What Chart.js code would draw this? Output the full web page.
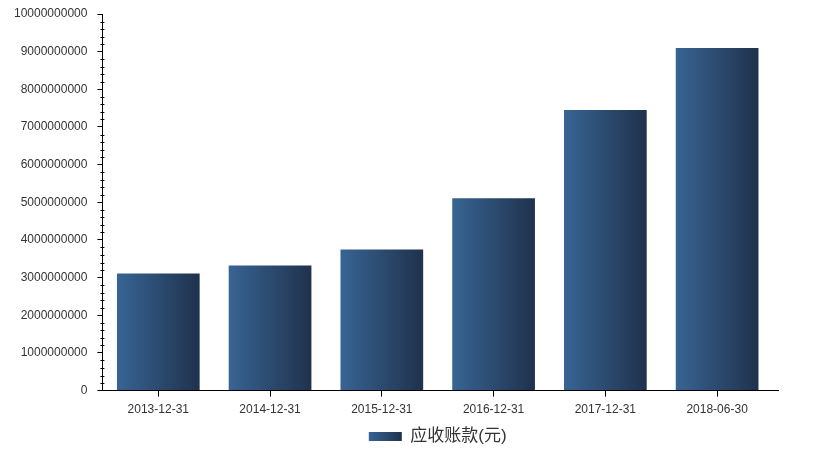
<!DOCTYPE html>
<html>
<head>
<meta charset="utf-8">
<script src="https://cdn.jsdelivr.net/npm/chart.js@4"></script>
<style>
    html, body { margin: 0; padding: 0; background: #fff; }
    #wrap { width: 814px; height: 450px; }
</style>
</head>
<body>
<div id="wrap"><canvas id="arChart"></canvas></div>
<script>
// Data
const dates = ['2013-12-31', '2014-12-31', '2015-12-31', '2016-12-31', '2017-12-31', '2018-06-30'];
const receivables = [3110000000, 3320000000, 3750000000, 5110000000, 7450000000, 9100000000];
const seriesName = '应收账款(元)';

const barPct = 0.74;
const leftColor = '#386493';
const rightColor = '#1f324d';

function barGradient(ctx, x0, x1) {
    const g = ctx.createLinearGradient(x0, 0, x1, 0);
    g.addColorStop(0, leftColor);
    g.addColorStop(1, rightColor);
    return g;
}

// Minor ticks on the y axis, legend centred under the plot, gradient legend box
const extras = {
    id: 'extras',
    afterLayout(chart) {
        const lg = chart.legend;
        lg.left = chart.chartArea.left;
        lg.right = chart.chartArea.right;
        lg.adjustHitBoxes();
    },
    beforeDraw(chart) {
        const lg = chart.legend;
        const box = lg.legendHitBoxes[0];
        if (box && lg.legendItems[0]) {
            lg.legendItems[0].fillStyle = barGradient(chart.ctx, box.left, box.left + lg.options.labels.boxWidth);
        }
    },
    afterDraw(chart) {
        const ctx = chart.ctx;
        const y = chart.scales.y;
        ctx.save();
        ctx.strokeStyle = '#000';
        ctx.lineWidth = 1;
        for (let v = 0; v <= 10000000000; v += 200000000) {
            if (v % 1000000000 === 0) continue;
            const py = Math.round(y.getPixelForValue(v)) + 0.5;
            ctx.beginPath();
            ctx.moveTo(y.right - 2, py);
            ctx.lineTo(y.right + 2, py);
            ctx.stroke();
        }
        // extend the x axis line a little past the last category, as in the original
        const xs = chart.scales.x;
        ctx.beginPath();
        ctx.moveTo(xs.right, Math.round(xs.top) - 0.5);
        ctx.lineTo(xs.right + 6, Math.round(xs.top) - 0.5);
        ctx.stroke();
        ctx.restore();
    }
};

new Chart(document.getElementById('arChart'), {
    type: 'bar',
    data: {
        labels: dates,
        datasets: [{
            label: seriesName,
            data: receivables,
            backgroundColor: function (context) {
                const chart = context.chart;
                const xs = chart.scales.x;
                if (!xs || context.type !== 'data') return '#2c4a70';
                const cx = xs.getPixelForValue(context.dataIndex);
                const half = xs.width / dates.length * barPct / 2;
                if (!isFinite(cx) || !isFinite(half) || half <= 0) return '#2c4a70';
                return barGradient(chart.ctx, cx - half, cx + half);
            },
            borderWidth: 0,
            barPercentage: barPct,
            categoryPercentage: 1
        }]
    },
    options: {
        responsive: true,
        maintainAspectRatio: false,
        animation: false,
        layout: {
            padding: { left: 4, right: 41, top: 14, bottom: -5 }
        },
        scales: {
            x: {
                offset: true,
                grid: {
                    drawOnChartArea: false,
                    tickLength: 6,
                    color: '#000',
                    offset: false
                },
                border: { color: '#000' },
                ticks: {
                    color: '#333',
                    font: { size: 12, family: 'Liberation Sans' },
                    padding: 6,
                    maxRotation: 0
                }
            },
            y: {
                min: 0,
                max: 10000000000,
                afterFit: function (scale) {
                    scale.paddingTop = 0;
                },
                grid: {
                    drawOnChartArea: false,
                    tickLength: 5,
                    color: '#000'
                },
                border: { color: '#000' },
                ticks: {
                    stepSize: 1000000000,
                    color: '#333',
                    font: { size: 12, family: 'Liberation Sans' },
                    padding: 10,
                    callback: function (value) {
                        return String(value);
                    }
                }
            }
        },
        plugins: {
            legend: {
                position: 'bottom',
                labels: {
                    color: '#333',
                    boxWidth: 33,
                    boxHeight: 9,
                    padding: 5,
                    font: { size: 17, family: "'Liberation Sans', 'Noto Sans CJK SC'" }
                }
            },
            tooltip: { enabled: false }
        }
    },
    plugins: [extras]
});
</script>
</body>
</html>
